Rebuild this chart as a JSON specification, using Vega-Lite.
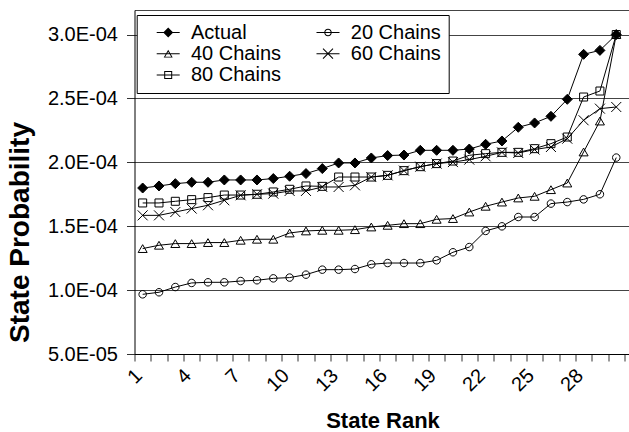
{
  "$schema": "https://vega.github.io/schema/vega-lite/v6.json",
  "width": 494.5,
  "height": 344,
  "autosize": {"type": "none"},
  "padding": {"left": 134.5, "top": 10, "right": 0, "bottom": 78},
  "background": "white",
  "config": {"view": {"stroke": null}, "font": "Liberation Sans"},
  "datasets": {
    "rows": [
      {"rank":1,"series":"Actual","p":0.0001799},{"rank":2,"series":"Actual","p":0.0001815},{"rank":3,"series":"Actual","p":0.0001833},{"rank":4,"series":"Actual","p":0.0001844},{"rank":5,"series":"Actual","p":0.0001844},{"rank":6,"series":"Actual","p":0.0001862},{"rank":7,"series":"Actual","p":0.0001862},{"rank":8,"series":"Actual","p":0.0001862},{"rank":9,"series":"Actual","p":0.0001873},{"rank":10,"series":"Actual","p":0.0001891},{"rank":11,"series":"Actual","p":0.0001912},{"rank":12,"series":"Actual","p":0.0001951},{"rank":13,"series":"Actual","p":0.0001995},{"rank":14,"series":"Actual","p":0.0001995},{"rank":15,"series":"Actual","p":0.0002034},{"rank":16,"series":"Actual","p":0.0002053},{"rank":17,"series":"Actual","p":0.0002057},{"rank":18,"series":"Actual","p":0.0002094},{"rank":19,"series":"Actual","p":0.0002094},{"rank":20,"series":"Actual","p":0.0002094},{"rank":21,"series":"Actual","p":0.0002104},{"rank":22,"series":"Actual","p":0.0002141},{"rank":23,"series":"Actual","p":0.0002167},{"rank":24,"series":"Actual","p":0.0002274},{"rank":25,"series":"Actual","p":0.0002308},{"rank":26,"series":"Actual","p":0.000236},{"rank":27,"series":"Actual","p":0.0002493},{"rank":28,"series":"Actual","p":0.0002845},{"rank":29,"series":"Actual","p":0.0002876},{"rank":30,"series":"Actual","p":0.0003},
      {"rank":1,"series":"20 Chains","p":0.0000967},{"rank":2,"series":"20 Chains","p":0.0000983},{"rank":3,"series":"20 Chains","p":0.0001024},{"rank":4,"series":"20 Chains","p":0.0001056},{"rank":5,"series":"20 Chains","p":0.0001061},{"rank":6,"series":"20 Chains","p":0.0001061},{"rank":7,"series":"20 Chains","p":0.0001071},{"rank":8,"series":"20 Chains","p":0.0001077},{"rank":9,"series":"20 Chains","p":0.0001092},{"rank":10,"series":"20 Chains","p":0.0001098},{"rank":11,"series":"20 Chains","p":0.0001121},{"rank":12,"series":"20 Chains","p":0.000116},{"rank":13,"series":"20 Chains","p":0.000116},{"rank":14,"series":"20 Chains","p":0.0001165},{"rank":15,"series":"20 Chains","p":0.0001202},{"rank":16,"series":"20 Chains","p":0.0001212},{"rank":17,"series":"20 Chains","p":0.0001212},{"rank":18,"series":"20 Chains","p":0.0001212},{"rank":19,"series":"20 Chains","p":0.0001233},{"rank":20,"series":"20 Chains","p":0.0001296},{"rank":21,"series":"20 Chains","p":0.0001337},{"rank":22,"series":"20 Chains","p":0.0001463},{"rank":23,"series":"20 Chains","p":0.0001499},{"rank":24,"series":"20 Chains","p":0.0001572},{"rank":25,"series":"20 Chains","p":0.0001572},{"rank":26,"series":"20 Chains","p":0.0001677},{"rank":27,"series":"20 Chains","p":0.0001689},{"rank":28,"series":"20 Chains","p":0.000171},{"rank":29,"series":"20 Chains","p":0.000175},{"rank":30,"series":"20 Chains","p":0.0002037},
      {"rank":1,"series":"40 Chains","p":0.0001325},{"rank":2,"series":"40 Chains","p":0.0001351},{"rank":3,"series":"40 Chains","p":0.0001364},{"rank":4,"series":"40 Chains","p":0.0001364},{"rank":5,"series":"40 Chains","p":0.0001372},{"rank":6,"series":"40 Chains","p":0.0001372},{"rank":7,"series":"40 Chains","p":0.000139},{"rank":8,"series":"40 Chains","p":0.0001398},{"rank":9,"series":"40 Chains","p":0.0001398},{"rank":10,"series":"40 Chains","p":0.0001447},{"rank":11,"series":"40 Chains","p":0.0001463},{"rank":12,"series":"40 Chains","p":0.0001468},{"rank":13,"series":"40 Chains","p":0.0001468},{"rank":14,"series":"40 Chains","p":0.0001473},{"rank":15,"series":"40 Chains","p":0.0001494},{"rank":16,"series":"40 Chains","p":0.0001507},{"rank":17,"series":"40 Chains","p":0.000152},{"rank":18,"series":"40 Chains","p":0.000152},{"rank":19,"series":"40 Chains","p":0.0001554},{"rank":20,"series":"40 Chains","p":0.000156},{"rank":21,"series":"40 Chains","p":0.0001611},{"rank":22,"series":"40 Chains","p":0.0001656},{"rank":23,"series":"40 Chains","p":0.0001689},{"rank":24,"series":"40 Chains","p":0.0001721},{"rank":25,"series":"40 Chains","p":0.0001734},{"rank":26,"series":"40 Chains","p":0.0001786},{"rank":27,"series":"40 Chains","p":0.0001838},{"rank":28,"series":"40 Chains","p":0.0002081},{"rank":29,"series":"40 Chains","p":0.0002323},{"rank":30,"series":"40 Chains","p":0.0003},
      {"rank":1,"series":"60 Chains","p":0.0001585},{"rank":2,"series":"60 Chains","p":0.0001585},{"rank":3,"series":"60 Chains","p":0.0001611},{"rank":4,"series":"60 Chains","p":0.0001638},{"rank":5,"series":"60 Chains","p":0.0001664},{"rank":6,"series":"60 Chains","p":0.0001703},{"rank":7,"series":"60 Chains","p":0.0001742},{"rank":8,"series":"60 Chains","p":0.000175},{"rank":9,"series":"60 Chains","p":0.0001755},{"rank":10,"series":"60 Chains","p":0.0001776},{"rank":11,"series":"60 Chains","p":0.0001776},{"rank":12,"series":"60 Chains","p":0.0001807},{"rank":13,"series":"60 Chains","p":0.0001807},{"rank":14,"series":"60 Chains","p":0.000182},{"rank":15,"series":"60 Chains","p":0.0001885},{"rank":16,"series":"60 Chains","p":0.0001898},{"rank":17,"series":"60 Chains","p":0.0001935},{"rank":18,"series":"60 Chains","p":0.0001966},{"rank":19,"series":"60 Chains","p":0.000199},{"rank":20,"series":"60 Chains","p":0.0002002},{"rank":21,"series":"60 Chains","p":0.0002021},{"rank":22,"series":"60 Chains","p":0.0002047},{"rank":23,"series":"60 Chains","p":0.0002078},{"rank":24,"series":"60 Chains","p":0.0002073},{"rank":25,"series":"60 Chains","p":0.00021},{"rank":26,"series":"60 Chains","p":0.000212},{"rank":27,"series":"60 Chains","p":0.0002185},{"rank":28,"series":"60 Chains","p":0.0002329},{"rank":29,"series":"60 Chains","p":0.000242},{"rank":30,"series":"60 Chains","p":0.0002433},
      {"rank":1,"series":"80 Chains","p":0.0001682},{"rank":2,"series":"80 Chains","p":0.0001682},{"rank":3,"series":"80 Chains","p":0.0001695},{"rank":4,"series":"80 Chains","p":0.0001708},{"rank":5,"series":"80 Chains","p":0.0001724},{"rank":6,"series":"80 Chains","p":0.0001744},{"rank":7,"series":"80 Chains","p":0.0001744},{"rank":8,"series":"80 Chains","p":0.000175},{"rank":9,"series":"80 Chains","p":0.0001768},{"rank":10,"series":"80 Chains","p":0.0001789},{"rank":11,"series":"80 Chains","p":0.0001815},{"rank":12,"series":"80 Chains","p":0.0001812},{"rank":13,"series":"80 Chains","p":0.0001885},{"rank":14,"series":"80 Chains","p":0.0001885},{"rank":15,"series":"80 Chains","p":0.0001885},{"rank":16,"series":"80 Chains","p":0.0001898},{"rank":17,"series":"80 Chains","p":0.0001935},{"rank":18,"series":"80 Chains","p":0.0001966},{"rank":19,"series":"80 Chains","p":0.000199},{"rank":20,"series":"80 Chains","p":0.000201},{"rank":21,"series":"80 Chains","p":0.0002055},{"rank":22,"series":"80 Chains","p":0.0002068},{"rank":23,"series":"80 Chains","p":0.0002078},{"rank":24,"series":"80 Chains","p":0.0002078},{"rank":25,"series":"80 Chains","p":0.0002107},{"rank":26,"series":"80 Chains","p":0.0002146},{"rank":27,"series":"80 Chains","p":0.0002198},{"rank":28,"series":"80 Chains","p":0.0002511},{"rank":29,"series":"80 Chains","p":0.0002558},{"rank":30,"series":"80 Chains","p":0.0003}
    ]
  },
  "data": {"name": "rows"},
  "encoding": {
    "x": {
      "field": "rank", "type": "quantitative",
      "scale": {"domain": [0.5, 30.78], "nice": false, "zero": false},
      "axis": {
        "values": [0.5,1.5,2.5,3.5,4.5,5.5,6.5,7.5,8.5,9.5,10.5,11.5,12.5,13.5,14.5,15.5,16.5,17.5,18.5,19.5,20.5,21.5,22.5,23.5,24.5,25.5,26.5,27.5,28.5,29.5,30.5],
        "grid": false,
        "domainColor": "black",
        "tickColor": "#333",
        "tickSize": 7,
        "labelAngle": -45,
        "labelFont": "Liberation Sans",
        "labelFontSize": 20,
        "labelColor": "black",
        "labelOffset": -3,
        "labelPadding": 4,
        "labelOverlap": false,
        "labelFlush": false,
        "labelBound": false,
        "labelExpr": "((datum.value - 0.5) % 3 === 0 && datum.value < 30) ? format(datum.value + 0.5, 'd') : ''",
        "title": "State Rank",
        "titleFont": "Liberation Sans",
        "titleFontSize": 22,
        "titleFontWeight": "bold",
        "titleColor": "black",
        "titleX": 248,
        "titleY": 73,
        "titleBaseline": "alphabetic"
      }
    },
    "y": {
      "field": "p", "type": "quantitative",
      "scale": {"domain": [0.00005, 0.0003192], "nice": false, "zero": false},
      "axis": {
        "values": [0.00005, 0.0001, 0.00015, 0.0002, 0.00025, 0.0003, 0.0003192],
        "grid": true,
        "gridColor": "#444",
        "gridOpacity": 1,
        "gridWidth": 1,
        "domainColor": "black",
        "tickColor": {"condition": {"test": "datum.value > 0.00031", "value": "transparent"}, "value": "#333"},
        "tickSize": 8,
        "labelFont": "Liberation Sans",
        "labelFontSize": 20,
        "labelColor": "black",
        "labelPadding": 9,
        "labelOverlap": false,
        "labelFlush": false,
        "labelExpr": "datum.value > 0.00031 ? '' : (datum.value < 0.00009 ? format(datum.value * 100000, '.1f') + 'E-05' : format(datum.value * 10000, '.1f') + 'E-04')",
        "title": "State Probability",
        "titleFont": "Liberation Sans",
        "titleFontSize": 28,
        "titleFontWeight": "bold",
        "titleColor": "black",
        "titleAngle": 270,
        "titleX": -114,
        "titleY": 222,
        "titleBaseline": "middle",
        "titleAlign": "center"
      }
    }
  },
  "layer": [
    {
      "mark": {"type": "line", "color": "black", "strokeWidth": 1},
      "encoding": {"detail": {"field": "series", "type": "nominal"}}
    },
    {
      "mark": {"type": "point", "stroke": "black", "strokeWidth": 1, "opacity": 1, "size": 100},
      "encoding": {
        "shape": {
          "field": "series", "type": "nominal",
          "scale": {
            "domain": ["Actual", "20 Chains", "40 Chains", "60 Chains", "80 Chains"],
            "range": [
              "M0,-1L1,0L0,1L-1,0Z",
              "M0.75,0A0.75,0.75 0 1,1 -0.75,0A0.75,0.75 0 1,1 0.75,0Z",
              "M0,-0.78L0.9,0.78L-0.9,0.78Z",
              "M-1,-1L1,1M-1,1L1,-1",
              "M-0.8,-0.8H0.8V0.8H-0.8Z"
            ]
          },
          "legend": null
        },
        "fill": {"condition": {"test": "datum.series === 'Actual'", "value": "black"}, "value": "transparent"}
      }
    },
    {
      "mark": {"type": "point", "filled": true, "color": "black", "strokeWidth": 0, "opacity": 0},
      "encoding": {
        "shape": {
          "field": "series", "type": "nominal",
          "scale": {
            "domain": ["Actual", "40 Chains", "80 Chains", "20 Chains", "60 Chains"],
            "range": [
              "M-1.15,-0.05H1.15V0.05H-1.15ZM0,-0.5L0.5,0L0,0.5L-0.5,0Z",
              "M-1.15,-0.05H1.15V0.05H-1.15ZM0,-0.39L0.45,0.39L-0.45,0.39ZM0,-0.2L-0.3,0.3L0.3,0.3Z",
              "M-1.15,-0.05H1.15V0.05H-1.15ZM-0.4,-0.4H0.4V0.4H-0.4ZM-0.3,-0.3V0.3H0.3V-0.3Z",
              "M-1.15,-0.05H1.15V0.05H-1.15ZM0.375,0A0.375,0.375 0 1,1 -0.375,0A0.375,0.375 0 1,1 0.375,0ZM0.275,0A0.275,0.275 0 1,0 -0.275,0A0.275,0.275 0 1,0 0.275,0Z",
              "M-1.15,-0.05H1.15V0.05H-1.15ZM-0.465,-0.535L0.535,0.465L0.465,0.535L-0.535,-0.465ZM-0.535,0.465L0.465,-0.535L0.535,-0.465L-0.465,0.535Z"
            ]
          },
          "legend": {
            "title": null,
            "orient": "none",
            "legendX": 2.2,
            "legendY": 5,
            "columns": 2,
            "symbolSize": 400,
            "symbolOffset": 14,
            "symbolStrokeWidth": 0,
            "symbolFillColor": "black",
            "labelOffset": 12.8,
            "labelFont": "Liberation Sans",
            "labelFontSize": 20,
            "labelColor": "black",
            "labelExpr": "datum.label + '\u00a0\u00a0\u00a0'",
            "padding": 7.5,
            "rowPadding": 1.2,
            "columnPadding": 22.8,
            "strokeColor": "black",
            "fillColor": "white",
            "encode": {
              "symbols": {
                "opacity": {"value": 1},
                "fill": {"value": "black"}
              }
            }
          }
        }
      }
    }
  ],
  "resolve": {"scale": {"shape": "independent"}, "legend": {"shape": "independent"}}
}
